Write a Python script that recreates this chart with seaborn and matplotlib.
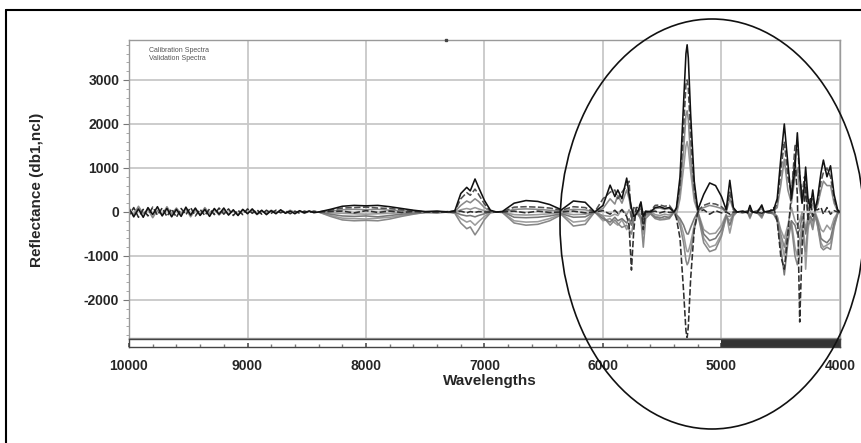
import pandas as pd
import matplotlib
matplotlib.use("Agg")
import matplotlib.pyplot as plt
from matplotlib.patches import Ellipse
from matplotlib.lines import Line2D
from matplotlib.ticker import MultipleLocator
import seaborn as sns

# noisy start of the spectra (10000 - 8440)
noise_wn = [10000, 9960, 9920, 9880, 9840, 9800, 9760, 9720, 9680, 9640,
            9600, 9560, 9520, 9480, 9440, 9400, 9360, 9320, 9280, 9240,
            9200, 9160, 9120, 9080, 9040, 9000, 8960, 8920, 8880, 8840,
            8800, 8760, 8720, 8680, 8640, 8600, 8560, 8520, 8480, 8440]
noise_a = [90, -110, 70, -120, 100, -60, 120, -90, 80, -110, 60, -100, 110, -70, 90, -80, 60, -100, 80, -50,
           90, -70, 50, -80, 60, -40, 70, -50, 40, -60, 30, -40, 50, -30, 20, -40, 30, -20, 25, -15]
noise_b = [-80, 100, -120, 60, -90, 110, -70, 90, -100, 70, -120, 80, -60, 100, -90, 60, -80, 70, -60, 90,
           -50, 70, -80, 40, -60, 70, -30, 50, -50, 40, -30, 40, -20, 30, -40, 20, -30, 20, -10, 20]
noise_c = [40, -60, 130, -40, 60, -130, 40, -70, 120, -50, 90, -40, 70, -110, 50, -60, 100, -40, 60, -70,
           40, -60, 30, -60, 50, -20, 40, -60, 20, -30, 40, -10, 30, -20, 40, -10, 20, -30, 10, -10]

# main part of the spectra (8400 - 4000)
wavenumber = [8400, 8300, 8200, 8100, 8000, 7900, 7800, 7700, 7600, 7500,
              7400, 7300, 7250, 7200, 7150, 7120, 7080, 7050, 7000, 6950,
              6900, 6850, 6750, 6650, 6550, 6450, 6350, 6250, 6150, 6070,
              6000, 5940, 5900, 5875, 5840, 5800, 5780, 5760, 5740, 5720,
              5700, 5680, 5660, 5640,
              5600, 5560, 5520, 5480, 5440, 5400, 5380, 5350, 5320, 5300,
              5290, 5280, 5260, 5230, 5200,
              5150, 5100, 5050, 5000, 4960, 4930, 4900, 4870, 4820, 4780,
              4760, 4740, 4700, 4660, 4640, 4600, 4560,
              4530, 4500, 4470, 4440, 4410, 4380, 4360, 4340, 4320, 4300,
              4290, 4270, 4250, 4230, 4210,
              4190, 4160, 4140, 4110, 4080, 4050, 4020, 4000]

cal_1 = [0, 60, 130, 150, 140, 150, 120, 80, 40, 10, 20, 0, 30, 420, 560, 480, 750, 560, 260, 40,
         0, 10, 200, 260, 240, 170, 50, 250, 220, 0,
         150, 610, 350, 500, 300, 770, 400, 100, -100, -50, 50, 230, -100, 20,
         0, 100, 120, 80, 100, 0, 100, 800, 2500, 3600, 3800, 3500, 2200, 700, 50,
         400, 660, 600, 350, 50, 720, 100, 0, 20, -20, 150, 0, -20, 160, 0, 20, 50,
         300, 1200, 2000, 1100, 300, 1000, 1800, 900, 200, 600, 1020, 300, 100, 500, 50,
         300, 900, 1180, 800, 1050, 400, 50, 0]
cal_2 = [0, 40, 90, 100, 110, 90, 80, 50, 30, 0, -10, 10, 20, 300, 440, 380, 520, 400, 180, 20,
         0, 0, 110, 120, 110, 90, 40, 120, 100, 0,
         300, 450, 500, 300, 450, 600, 700, -200, 100, 50, 0, 150, -200, 0,
         20, 150, 160, 130, 150, 0, 80, 600, 1900, 2900, 3000, 2800, 1700, 500, 30,
         150, 200, 180, 120, 20, 450, 60, 0, -10, 20, 100, 0, 20, 120, 0, -20, 0,
         200, 900, 1600, 800, 400, 1500, 1600, 800, 400, 800, 700, 200, 200, 300, 50,
         200, 700, 900, 1000, 800, 300, 30, 0]
cal_3 = [0, 20, 50, 60, 50, 60, 40, 30, 10, 0, 10, -10, 10, 150, 250, 210, 300, 240, 100, 10,
         0, -10, 60, 70, 60, 40, 20, 60, 50, 0,
         80, 300, 180, 380, 200, 500, 300, 50, -50, 0, 30, 100, -50, 10,
         -20, 80, 90, 60, 80, 0, 50, 450, 1400, 2200, 2300, 2100, 1200, 350, 20,
         100, 150, 120, 80, 0, 300, 50, 0, 10, 0, 80, 0, 10, 80, 0, 10, 30,
         100, 600, 1200, 500, 200, 800, 1000, 500, 200, 400, 500, 100, 50, 200, 20,
         150, 500, 700, 600, 600, 200, 20, 0]
cal_4 = [0, -20, -30, -40, -50, -40, -30, -20, -10, 0, 0, 10, 0, 50, 80, 60, 100, 70, 30, 0,
         0, 0, -60, -70, -60, -40, -20, -60, -50, 0,
         -80, -100, -50, -80, 60, -60, 50, -100, 0, 30, -30, -50, 0, -10,
         10, -60, -80, -50, -70, 0, -50, 300, 1000, 1500, 1600, 1450, 900, 250, 10,
         -400, -500, -480, -300, -50, -480, -100, 0, 0, 10, -80, 0, -10, -60, 0, 0, -30,
         -100, -400, -600, -300, 100, -200, -300, -200, 0, -200, -400, -100, 0, -100, 0,
         -150, -400, -450, -300, -400, -150, -20, 0]
val_1 = [0, -50, -90, -100, -90, -110, -80, -50, -30, -10, -20, 0, -10, -60, -90, -80, -110, -80, -40, 0,
         0, 10, -120, -130, -120, -90, -40, -120, -110, 0,
         -150, -230, -120, -200, -150, -250, -150, -300, -150, -30, -50, -100, -300, -50,
         -30, -120, -140, -100, -130, 0, -60, -150, -300, -450, -500, -500, -350, -150, 0,
         -500, -650, -600, -400, -80, -300, -60, 0, -20, 0, -120, 0, 0, -100, 0, -10, -50,
         -200, -800, -1430, -700, -200, -300, -500, -400, -100, -300, -500, -200, -100, -200, -50,
         -200, -600, -650, -700, -600, -250, -30, 0]
val_2 = [0, -80, -140, -150, -160, -140, -120, -80, -40, -10, 10, -10, -20, -150, -230, -200, -300, -220, -100, -10,
         0, 0, -200, -230, -220, -150, -50, -230, -200, 0,
         -200, -150, -250, -300, -180, -400, -300, -200, -50, 50, -20, -200, -500, -100,
         -20, -100, -120, -150, -110, 0, -80, -200, -500, -800, -900, -900, -700, -300, -20,
         -600, -800, -750, -500, -100, -200, -40, 0, 10, -10, -150, 0, 10, -140, 0, 20, -30,
         -150, -600, -1000, -500, -200, -800, -1000, -600, -300, -600, -1300, -400, -100, -300, -50,
         -300, -700, -800, -750, -700, -300, -40, 0]
val_3 = [0, -100, -180, -200, -190, -200, -160, -100, -50, -10, -10, 0, -30, -250, -380, -340, -520, -400, -170, -20,
         0, -10, -250, -300, -280, -200, -60, -320, -280, 0,
         -100, -300, -180, -260, -350, -300, -400, -500, -200, 0, -80, -150, -800, -150,
         -40, -150, -180, -170, -150, 0, -100, -300, -700, -1100, -1200, -1150, -900, -400, -40,
         -700, -900, -850, -550, -100, -100, -20, 0, 0, 20, -100, 0, -20, -120, 0, -10, -20,
         -100, -500, -800, -400, -300, -1000, -1200, -1000, -400, -800, -900, -300, -200, -400, -80,
         -300, -800, -860, -800, -850, -350, -40, 0]
val_4 = [0, 10, 20, -20, 30, -10, 20, -10, 10, 0, 0, 0, 0, 20, -20, 10, -10, 10, 0, 0,
         0, 0, 20, -20, 20, -10, 0, 20, -20, 0,
         30, -50, 40, -30, 50, -100, -300, -1320, -400, 100, 100, 200, -400, 0,
         0, 20, -20, 10, -10, 0, -150, -600, -1800, -2700, -2860, -2600, -1500, -400, 0,
         50, -50, 30, -20, 0, -50, 0, 0, 0, 0, 30, 0, 0, -30, 0, 0, 100,
         -200, -1000, -1300, -500, 400, 1200, 400, -2500, -800, 200, 600, -200, 300, -100, 50,
         50, 100, -50, 100, -50, 30, 0, 0]

spectra = {"cal_1": cal_1, "cal_2": cal_2, "cal_3": cal_3, "cal_4": cal_4,
           "val_1": val_1, "val_2": val_2, "val_3": val_3, "val_4": val_4}
noise_for = {"cal_1": noise_a, "val_4": noise_b, "cal_3": noise_c}

frames = []
for name, vals in spectra.items():
    wn = list(wavenumber)
    v = list(vals)
    if name in noise_for:
        wn = noise_wn + wn
        v = noise_for[name] + v
    frames.append(pd.DataFrame({"wavenumber": wn, "reflectance": v, "spectrum": name}))
df = pd.concat(frames, ignore_index=True)

order = ["cal_4", "val_2", "val_3", "val_1", "cal_3", "cal_2", "val_4", "cal_1"]
palette = {"cal_1": "#111111", "cal_2": "#505050", "cal_3": "#8a8a8a", "cal_4": "#9a9a9a",
           "val_1": "#787878", "val_2": "#9c9c9c", "val_3": "#888888", "val_4": "#2e2e2e"}
dashes = {k: "" for k in order}
dashes["cal_2"] = (4, 1.5)
dashes["val_4"] = (4, 1.5)

sns.set_theme(style="white")
plt.rcParams["font.family"] = ["Liberation Sans", "DejaVu Sans"]
plt.rcParams["axes.unicode_minus"] = False

W, H = 862, 443
fig = plt.figure(figsize=(W / 100, H / 100), dpi=100)
ax = fig.add_axes([129 / W, 1 - 338 / H, (840 - 129) / W, (338 - 40) / H])
bar_ax = fig.add_axes([129 / W, 1 - 347 / H, (840 - 129) / W, 8 / H], sharex=ax)

sns.lineplot(data=df, x="wavenumber", y="reflectance", hue="spectrum", style="spectrum",
             hue_order=order, style_order=order, palette=palette, dashes=dashes,
             estimator=None, legend=False, lw=1.15, ax=ax)

ax.set_xlim(10000, 4000)
ax.set_ylim(-2864, 3909)
ax.set_yticks([-2000, -1000, 0, 1000, 2000, 3000])
ax.yaxis.set_minor_locator(MultipleLocator(200))
ax.xaxis.set_major_locator(MultipleLocator(1000))
ax.grid(True, which="major", color="#c8c8c8", lw=1.3)
ax.set_axisbelow(True)
ax.set_xlabel("")
ax.set_ylabel("")
ax.tick_params(axis="x", which="both", length=0, labelbottom=False)
ax.tick_params(axis="y", which="major", length=4, width=0.8, color="#777777", left=True,
               labelsize=10, pad=3)
ax.tick_params(axis="y", which="minor", length=2, width=0.6, color="#999999", left=True)
for lab in ax.get_yticklabels():
    lab.set_fontweight("bold")
for s in ax.spines.values():
    s.set_color("#9a9a9a")
    s.set_linewidth(1.0)

# scroll bar under the plot
bar_ax.axvspan(5000, 4000, color="#333333", lw=0)
bar_ax.set_yticks([])
bar_ax.xaxis.set_major_locator(MultipleLocator(1000))
bar_ax.xaxis.set_minor_locator(MultipleLocator(200))
bar_ax.tick_params(axis="x", which="major", direction="in", length=3, color="#555555",
                   labelsize=10, pad=9, bottom=True)
bar_ax.tick_params(axis="x", which="minor", direction="in", length=2, color="#777777", bottom=True)
for lab in bar_ax.get_xticklabels():
    lab.set_fontweight("bold")
for s in bar_ax.spines.values():
    s.set_color("#444444")
    s.set_linewidth(1.0)

fig.text(490 / W, 1 - 381 / H, "Wavelengths", ha="center", va="center",
         fontsize=11, fontweight="bold")
fig.text(37 / W, 1 - 190 / H, "Reflectance (db1,ncl)", ha="center", va="center",
         rotation=90, fontsize=11, fontweight="bold")

ax.text(149 / W, 1 - 51 / H, "Calibration Spectra", transform=fig.transFigure,
        fontsize=5, color="#555555", va="center")
ax.text(149 / W, 1 - 58 / H, "Validation Spectra", transform=fig.transFigure,
        fontsize=5, color="#555555", va="center")

# hand drawn highlight and outer frame
fig.add_artist(Ellipse((712 / W, 1 - 224 / H), 304 / W, 410 / H, transform=fig.transFigure,
                       fill=False, ec="#111111", lw=1.2))
fig.add_artist(Line2D([6 / W, 6 / W], [0, 1 - 10 / H], color="black", lw=1.5))
fig.add_artist(Line2D([6 / W, 1], [1 - 10 / H, 1 - 10 / H], color="black", lw=1.5))
fig.add_artist(Line2D([446 / W], [1 - 40 / H], marker="s", ms=2, color="#444444"))

fig.savefig("out.png", dpi=100, facecolor="white")
